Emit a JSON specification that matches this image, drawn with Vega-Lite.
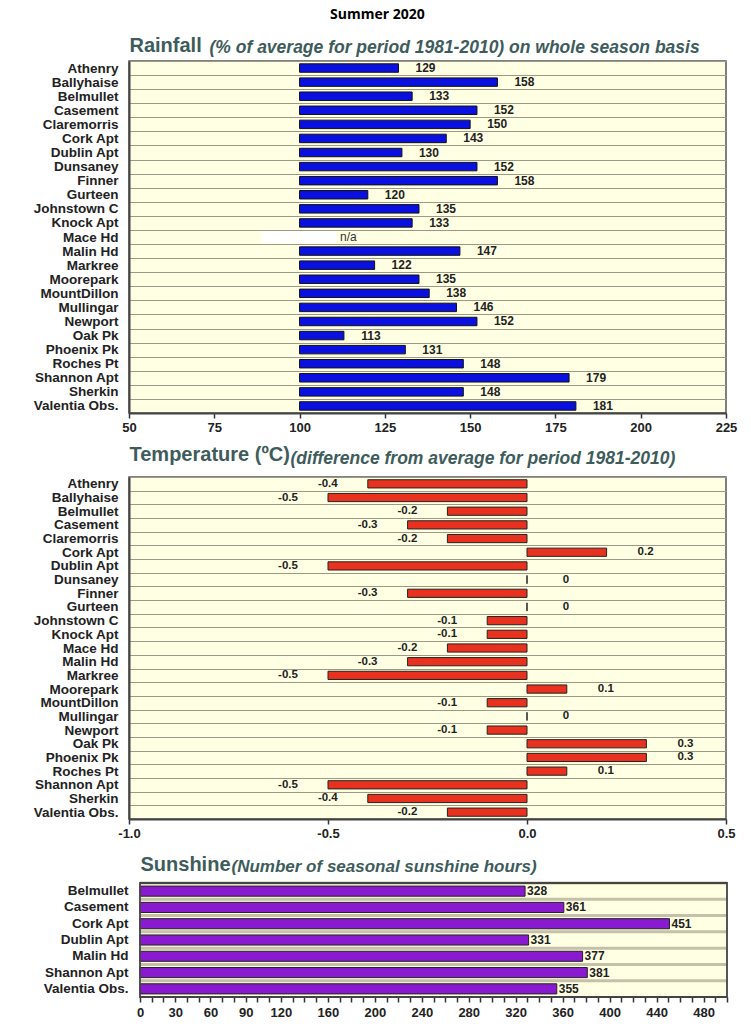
{
  "$schema": "https://vega.github.io/schema/vega-lite/v6.json",
  "padding": {"left": 17, "top": 8, "right": 0, "bottom": 0},
  "background": "white",
  "title": {"text": "Summer 2020", "font": "Open Sans", "fontSize": 14, "fontWeight": "bold", "color": "#000000", "anchor": "middle", "offset": 12},
  "spacing": 8,
  "datasets": {
    "rain": [
      {"station": "Athenry", "value": 129},
      {"station": "Ballyhaise", "value": 158},
      {"station": "Belmullet", "value": 133},
      {"station": "Casement", "value": 152},
      {"station": "Claremorris", "value": 150},
      {"station": "Cork Apt", "value": 143},
      {"station": "Dublin Apt", "value": 130},
      {"station": "Dunsaney", "value": 152},
      {"station": "Finner", "value": 158},
      {"station": "Gurteen", "value": 120},
      {"station": "Johnstown C", "value": 135},
      {"station": "Knock Apt", "value": 133},
      {"station": "Mace Hd", "value": null},
      {"station": "Malin Hd", "value": 147},
      {"station": "Markree", "value": 122},
      {"station": "Moorepark", "value": 135},
      {"station": "MountDillon", "value": 138},
      {"station": "Mullingar", "value": 146},
      {"station": "Newport", "value": 152},
      {"station": "Oak Pk", "value": 113},
      {"station": "Phoenix Pk", "value": 131},
      {"station": "Roches Pt", "value": 148},
      {"station": "Shannon Apt", "value": 179},
      {"station": "Sherkin", "value": 148},
      {"station": "Valentia Obs.", "value": 181}
    ],
    "rainNA": [
      {"station": "Mace Hd", "start": 89, "end": 111, "label": "n/a"}
    ],
    "temp": [
      {"station": "Athenry", "temp": -0.4},
      {"station": "Ballyhaise", "temp": -0.5},
      {"station": "Belmullet", "temp": -0.2},
      {"station": "Casement", "temp": -0.3},
      {"station": "Claremorris", "temp": -0.2},
      {"station": "Cork Apt", "temp": 0.2},
      {"station": "Dublin Apt", "temp": -0.5},
      {"station": "Dunsaney", "temp": 0},
      {"station": "Finner", "temp": -0.3},
      {"station": "Gurteen", "temp": 0},
      {"station": "Johnstown C", "temp": -0.1},
      {"station": "Knock Apt", "temp": -0.1},
      {"station": "Mace Hd", "temp": -0.2},
      {"station": "Malin Hd", "temp": -0.3},
      {"station": "Markree", "temp": -0.5},
      {"station": "Moorepark", "temp": 0.1},
      {"station": "MountDillon", "temp": -0.1},
      {"station": "Mullingar", "temp": 0},
      {"station": "Newport", "temp": -0.1},
      {"station": "Oak Pk", "temp": 0.3},
      {"station": "Phoenix Pk", "temp": 0.3},
      {"station": "Roches Pt", "temp": 0.1},
      {"station": "Shannon Apt", "temp": -0.5},
      {"station": "Sherkin", "temp": -0.4},
      {"station": "Valentia Obs.", "temp": -0.2}
    ],
    "sun": [
      {"station": "Belmullet", "hours": 328},
      {"station": "Casement", "hours": 361},
      {"station": "Cork Apt", "hours": 451},
      {"station": "Dublin Apt", "hours": 331},
      {"station": "Malin Hd", "hours": 377},
      {"station": "Shannon Apt", "hours": 381},
      {"station": "Valentia Obs.", "hours": 355}
    ],
    "sunFrame": [
      {"from": 0, "to": 500}
    ]
  },
  "vconcat": [
    {
      "width": 597,
      "height": 352,
      "data": {"name": "rain"},
      "encoding": {
        "y": {
          "field": "station", "type": "nominal", "sort": null,
          "scale": {"paddingInner": 0, "paddingOuter": 0, "domain": ["Athenry", "Ballyhaise", "Belmullet", "Casement", "Claremorris", "Cork Apt", "Dublin Apt", "Dunsaney", "Finner", "Gurteen", "Johnstown C", "Knock Apt", "Mace Hd", "Malin Hd", "Markree", "Moorepark", "MountDillon", "Mullingar", "Newport", "Oak Pk", "Phoenix Pk", "Roches Pt", "Shannon Apt", "Sherkin", "Valentia Obs."]},
          "axis": {
            "title": "Rainfall", "titleAngle": 0, "titleAlign": "left", "titleBaseline": "alphabetic", "titleX": 0, "titleY": -10,
            "titleFontSize": 20, "titleFontWeight": "bold", "titleColor": "#3e5c5b",
            "labelFontSize": 13.5, "labelFontWeight": "bold", "labelColor": "#222222", "labelPadding": 11,
            "ticks": false, "domain": true, "domainColor": "#444444", "domainWidth": 2,
            "grid": true, "gridColor": "#9c9a86", "gridWidth": 1, "tickBand": "extent", "minExtent": 111, "maxExtent": 111
          }
        }
      },
      "layer": [
        {
          "mark": {"type": "bar", "height": {"band": 0.6}, "color": "#0a10e0", "stroke": "#111111", "strokeWidth": 1},
          "encoding": {
            "x": {
              "field": "value", "type": "quantitative",
              "scale": {"domain": [50, 225], "nice": false, "zero": false},
              "axis": {"title": null, "values": [50, 75, 100, 125, 150, 175, 200, 225], "grid": false, "tickSize": 5, "tickColor": "#333333", "tickWidth": 1.5, "labelFontSize": 13, "labelFontWeight": "bold", "labelColor": "#222222", "labelPadding": 3, "domainColor": "#444444", "domainWidth": 2}
            },
            "x2": {"datum": 100}
          }
        },
        {
          "data": {"name": "rainNA"},
          "mark": {"type": "bar", "height": {"band": 0.85}, "color": "#ffffff"},
          "encoding": {
            "x": {"field": "start", "type": "quantitative", "axis": null},
            "x2": {"field": "end"}
          }
        },
        {
          "mark": {"type": "text", "dx": 27, "align": "center", "baseline": "middle", "fontSize": 12, "fontWeight": "bold", "color": "#222222"},
          "encoding": {
            "x": {
              "field": "value", "type": "quantitative",
              "axis": {"orient": "top", "labels": false, "ticks": false, "domain": false, "grid": false, "title": "(% of average for period 1981-2010) on whole season basis", "titleX": 80, "titleY": -9, "titleAlign": "left", "titleAnchor": "start", "titleBaseline": "alphabetic", "titleAngle": 0, "titleFontSize": 17.5, "titleFontStyle": "italic", "titleFontWeight": "bold", "titleColor": "#3e5c5b"}
            },
            "text": {"field": "value", "type": "nominal"}
          }
        },
        {
          "data": {"name": "rainNA"},
          "mark": {"type": "text", "dx": 3, "align": "left", "baseline": "middle", "fontSize": 12, "color": "#333333"},
          "encoding": {
            "x": {"field": "end", "type": "quantitative", "axis": null},
            "text": {"field": "label", "type": "nominal"}
          }
        }
      ],
      "resolve": {"axis": {"x": "independent"}}
    },
    {
      "width": 597,
      "height": 342,
      "data": {"name": "temp"},
      "encoding": {
        "y": {
          "field": "station", "type": "nominal", "sort": null,
          "scale": {"paddingInner": 0, "paddingOuter": 0},
          "axis": {
            "title": "Temperature (ºC)", "titleAngle": 0, "titleAlign": "left", "titleBaseline": "alphabetic", "titleX": 0, "titleY": -17,
            "titleFontSize": 20, "titleFontWeight": "bold", "titleColor": "#3e5c5b",
            "labelFontSize": 13.5, "labelFontWeight": "bold", "labelColor": "#222222", "labelPadding": 11,
            "ticks": false, "domain": true, "domainColor": "#444444", "domainWidth": 2,
            "grid": true, "gridColor": "#9c9a86", "gridWidth": 1, "tickBand": "extent", "minExtent": 111, "maxExtent": 111
          }
        }
      },
      "layer": [
        {
          "mark": {"type": "bar", "height": {"band": 0.6}, "color": "#e8321f", "stroke": "#222222", "strokeWidth": 1},
          "encoding": {
            "x": {
              "field": "temp", "type": "quantitative",
              "scale": {"domain": [-1, 0.5], "nice": false, "zero": false},
              "axis": {"title": null, "values": [-1, -0.5, 0, 0.5], "labelExpr": "replace(format(datum.value, '.1f'), '\u2212', '-')", "grid": false, "tickSize": 5, "tickColor": "#333333", "tickWidth": 1.5, "labelFontSize": 13, "labelFontWeight": "bold", "labelColor": "#222222", "labelPadding": 3, "domainColor": "#444444", "domainWidth": 2, "minExtent": 26}
            },
            "x2": {"datum": 0}
          }
        },
        {
          "transform": [{"filter": "datum.temp >= 0"}],
          "mark": {"type": "text", "dx": 39, "align": "center", "baseline": "middle", "fontSize": 11.5, "fontWeight": "bold", "color": "#222222"},
          "encoding": {
            "x": {
              "field": "temp", "type": "quantitative",
              "axis": {"orient": "top", "labels": false, "ticks": false, "domain": false, "grid": false, "title": "(difference from average for period 1981-2010)", "titleX": 161, "titleY": -14, "titleAlign": "left", "titleAnchor": "start", "titleBaseline": "alphabetic", "titleAngle": 0, "titleFontSize": 17.5, "titleFontStyle": "italic", "titleFontWeight": "bold", "titleColor": "#3e5c5b"}
            },
            "text": {"field": "temp", "type": "nominal"}
          }
        },
        {
          "transform": [{"filter": "datum.temp < 0"}],
          "mark": {"type": "text", "dx": -40, "align": "center", "baseline": "middle", "fontSize": 11.5, "fontWeight": "bold", "color": "#222222"},
          "encoding": {
            "x": {"field": "temp", "type": "quantitative", "axis": null},
            "text": {"field": "temp", "type": "nominal"}
          }
        }
      ],
      "resolve": {"axis": {"x": "independent"}}
    },
    {
      "width": 598,
      "height": 114,
      "view": {"fill": null, "stroke": null},
      "data": {"name": "sun"},
      "layer": [
        {
          "data": {"name": "sunFrame"},
          "mark": {"type": "rect", "fill": "#ffffe3", "strokeWidth": 0},
          "encoding": {
            "x": {"field": "from", "type": "quantitative", "scale": {"domain": [-9.37, 500], "nice": false, "zero": false}, "axis": null},
            "x2": {"field": "to"}
          }
        },
        {
          "mark": {"type": "rule", "stroke": "#c4c1a8", "strokeWidth": 3},
          "encoding": {
            "y": {"field": "station", "type": "nominal", "sort": null, "bandPosition": 0},
            "x": {"datum": 0, "type": "quantitative", "axis": null},
            "x2": {"datum": 500}
          }
        },
        {
          "mark": {"type": "bar", "height": {"band": 0.62}, "color": "#8a1ad0", "stroke": "#222222", "strokeWidth": 1},
          "encoding": {
            "y": {
              "field": "station", "type": "nominal", "sort": null,
              "scale": {"paddingInner": 0, "paddingOuter": 0},
              "axis": {
                "title": "Sunshine", "titleAngle": 0, "titleAlign": "left", "titleBaseline": "alphabetic", "titleX": 11, "titleY": -13,
                "titleFontSize": 20, "titleFontWeight": "bold", "titleColor": "#3e5c5b",
                "labelFontSize": 13.5, "labelFontWeight": "bold", "labelColor": "#222222", "labelPadding": 1,
                "ticks": false, "domain": false, "grid": false, "minExtent": 111, "maxExtent": 111
              }
            },
            "x": {
              "field": "hours", "type": "quantitative",
              "axis": {"title": null, "values": [0, 10, 20, 30, 40, 50, 60, 70, 80, 90, 100, 110, 120, 130, 140, 150, 160, 170, 180, 190, 200, 210, 220, 230, 240, 250, 260, 270, 280, 290, 300, 310, 320, 330, 340, 350, 360, 370, 380, 390, 400, 410, 420, 430, 440, 450, 460, 470, 480, 490, 500], "labelExpr": "indexof([0, 30, 60, 90, 120, 160, 200, 240, 280, 320, 360, 400, 440, 480], datum.value) >= 0 ? datum.label : ''", "grid": false, "tickSize": 5, "tickColor": "#333333", "tickWidth": 1.5, "labelFontSize": 13, "labelFontWeight": "bold", "labelColor": "#222222", "labelPadding": 4, "domain": false}
            }
          }
        },
        {
          "mark": {"type": "text", "dx": 2, "align": "left", "baseline": "middle", "fontSize": 12, "fontWeight": "bold", "color": "#222222"},
          "encoding": {
            "y": {"field": "station", "type": "nominal", "sort": null},
            "x": {
              "field": "hours", "type": "quantitative",
              "axis": {"orient": "top", "labels": false, "ticks": false, "domain": false, "grid": false, "title": "(Number of seasonal sunshine hours)", "titleX": 102, "titleY": -12, "titleAlign": "left", "titleAnchor": "start", "titleBaseline": "alphabetic", "titleAngle": 0, "titleFontSize": 17, "titleFontStyle": "italic", "titleFontWeight": "bold", "titleColor": "#3e5c5b"}
            },
            "text": {"field": "hours", "type": "nominal"}
          }
        },
        {
          "data": {"name": "sunFrame"},
          "mark": {"type": "rect", "fill": null, "stroke": "#444444", "strokeWidth": 1.8},
          "encoding": {
            "x": {"field": "from", "type": "quantitative", "axis": null},
            "x2": {"field": "to"}
          }
        }
      ],
      "resolve": {"axis": {"x": "independent"}}
    }
  ],
  "config": {
    "view": {"fill": "#ffffe3", "stroke": "#555555", "strokeWidth": 1.5},
    "axis": {"labelFont": "Liberation Sans", "titleFont": "Liberation Sans", "labelFlush": false, "labelOverlap": false},
    "text": {"font": "Liberation Sans"}
  }
}
